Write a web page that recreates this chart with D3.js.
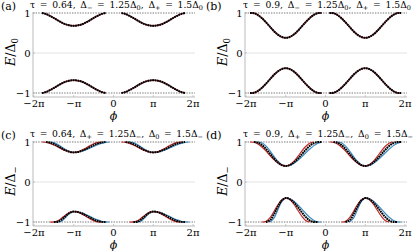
<!DOCTYPE html>
<html>
<head>
<meta charset="utf-8">
<script src="https://cdn.jsdelivr.net/npm/d3@7"></script>
<style>
  body { margin: 0; background: #fff; }
  svg text { font-family: 'DejaVu Serif', serif; }
</style>
</head>
<body>
<svg id="fig" width="415" height="252"></svg>
<script>
// Phase axis in units of pi
var phiTicks = [-2, -1, 0, 1, 2];
var phiTickLabels = ['\u22122\u03c0', '\u2212\u03c0', '0', '\u03c0', '2\u03c0'];
var eTicks = [-1, 0, 1];
var eTickLabels = ['\u22121', '0', '1'];

// Each bound-state lobe is centred at phi = -pi and phi = +pi
var lobeCentres = [-1, 1];
var lobeOffsets = [-0.9, -0.8, -0.7, -0.6, -0.5, -0.4, -0.3, -0.2, -0.1, 0,
                   0.1, 0.2, 0.3, 0.4, 0.5, 0.6, 0.7, 0.8, 0.9];

// (a) tau = 0.64
var aUpper = [1, 1, 0.975, 0.93, 0.875, 0.815, 0.76, 0.715, 0.69, 0.68, 0.69, 0.715, 0.76, 0.815, 0.875, 0.93, 0.975, 1, 1];
var aLower = [-1, -1, -0.975, -0.93, -0.875, -0.815, -0.76, -0.715, -0.69, -0.68, -0.69, -0.715, -0.76, -0.815, -0.875, -0.93, -0.975, -1, -1];
// (b) tau = 0.9
var bUpper = [1, 0.995, 0.95, 0.87, 0.77, 0.66, 0.55, 0.46, 0.40, 0.38, 0.40, 0.46, 0.55, 0.66, 0.77, 0.87, 0.95, 0.995, 1];
var bLower = [-1, -0.995, -0.95, -0.87, -0.77, -0.66, -0.55, -0.46, -0.40, -0.38, -0.40, -0.46, -0.55, -0.66, -0.77, -0.87, -0.95, -0.995, -1];
// (c) tau = 0.64, red / blue / black
var cUpperRed   = [1, 1, 0.993, 0.967, 0.926, 0.875, 0.824, 0.78, 0.75, 0.74, 0.754, 0.792, 0.846, 0.906, 0.958, 0.991, 1, 1, 1];
var cUpperBlue  = [1, 1, 1, 1, 0.983, 0.935, 0.87, 0.805, 0.757, 0.74, 0.748, 0.769, 0.802, 0.843, 0.887, 0.93, 0.965, 0.99, 1];
var cUpperBlack = [1, 1, 1, 0.987, 0.951, 0.899, 0.841, 0.789, 0.753, 0.74, 0.75, 0.778, 0.82, 0.87, 0.92, 0.962, 0.99, 1, 1];
var cLowerRed   = [-1, -1, -1, -1, -0.999, -0.967, -0.901, -0.824, -0.763, -0.74, -0.755, -0.796, -0.854, -0.916, -0.967, -0.996, -1, -1, -1];
var cLowerBlue  = [-1, -1, -1, -1, -1, -1, -0.973, -0.881, -0.782, -0.74, -0.749, -0.774, -0.812, -0.858, -0.906, -0.948, -0.981, -0.998, -1];
var cLowerBlack = [-1, -1, -1, -1, -1, -0.992, -0.935, -0.847, -0.77, -0.74, -0.751, -0.782, -0.83, -0.884, -0.935, -0.975, -0.997, -1, -1];
// (d) tau = 0.9, red / blue / black
var dUpperRed   = [1, 0.993, 0.95, 0.876, 0.776, 0.667, 0.563, 0.477, 0.42, 0.4, 0.43, 0.513, 0.633, 0.767, 0.887, 0.97, 1, 1, 1];
var dUpperBlue  = [1, 1, 1, 0.98, 0.902, 0.782, 0.645, 0.52, 0.432, 0.4, 0.416, 0.463, 0.536, 0.627, 0.725, 0.819, 0.903, 0.964, 0.996];
var dUpperBlack = [1, 1, 0.984, 0.924, 0.829, 0.712, 0.594, 0.492, 0.424, 0.4, 0.422, 0.484, 0.578, 0.689, 0.802, 0.9, 0.969, 0.999, 1];
var dLowerRed   = [-1, -1, -1, -1, -0.988, -0.897, -0.743, -0.575, -0.448, -0.4, -0.44, -0.55, -0.7, -0.85, -0.96, -1, -1, -1, -1];
var dLowerBlue  = [-1, -1, -1, -1, -1, -1, -0.912, -0.7, -0.488, -0.4, -0.42, -0.477, -0.565, -0.672, -0.782, -0.88, -0.955, -0.995, -1];
var dLowerBlack = [-1, -1, -1, -1, -1, -0.96, -0.815, -0.622, -0.462, -0.4, -0.428, -0.507, -0.622, -0.752, -0.872, -0.96, -0.999, -1, -1];

var panelLetters = ['(a)', '(b)', '(c)', '(d)'];
// title pieces: [text, subscript?]
var panelTitles = [
  [['\u03c4 = 0.64, \u0394', 0], ['\u2212', 1], [' = 1.25\u0394', 0], ['0', 1], [', \u0394', 0], ['+', 1], [' = 1.5\u0394', 0], ['0', 1]],
  [['\u03c4 = 0.9, \u0394', 0], ['\u2212', 1], [' = 1.25\u0394', 0], ['0', 1], [', \u0394', 0], ['+', 1], [' = 1.5\u0394', 0], ['0', 1]],
  [['\u03c4 = 0.64, \u0394', 0], ['+', 1], [' = 1.25\u0394', 0], ['\u2212', 1], [', \u0394', 0], ['0', 1], [' = 1.5\u0394', 0], ['\u2212', 1]],
  [['\u03c4 = 0.9, \u0394', 0], ['+', 1], [' = 1.25\u0394', 0], ['\u2212', 1], [', \u0394', 0], ['0', 1], [' = 1.5\u0394', 0], ['\u2212', 1]]
];
var yLabelSubs = ['0', '0', '\u2212', '\u2212'];
var panelSeries = [
  {red: [aUpper, aLower], blue: [aUpper, aLower], black: [aUpper, aLower]},
  {red: [bUpper, bLower], blue: [bUpper, bLower], black: [bUpper, bLower]},
  {red: [cUpperRed, cLowerRed], blue: [cUpperBlue, cLowerBlue], black: [cUpperBlack, cLowerBlack]},
  {red: [dUpperRed, dLowerRed], blue: [dUpperBlue, dLowerBlue], black: [dUpperBlack, dLowerBlack]}
];

// title placement inside each panel (x start, target width)
var titleX = [30, 31, 30, 31];
var titleW = [173, 168, 173, 170];

var svg = d3.select('#fig');

// keep only the part of a lobe that leaves the gap edge
function lobePoints(values, centre) {
  var pts = [];
  values.forEach(function(v, i) {
    var inside = Math.abs(v) < 1,
        prevIn = i > 0 && Math.abs(values[i - 1]) < 1,
        nextIn = i < values.length - 1 && Math.abs(values[i + 1]) < 1;
    if (inside || prevIn || nextIn) pts.push([centre + lobeOffsets[i], v]);
  });
  return pts;
}

panelLetters.forEach(function(letter, p) {
  var col = p % 2, row = Math.floor(p / 2),
      ox = col * 212, oy = row * 129;
  var g = svg.append('g').attr('transform', 'translate(' + ox + ',' + oy + ')');

  var x = d3.scaleLinear().domain([-2, 2]).range([34, 193]);
  var y = d3.scaleLinear().domain([-1, 1]).range([93, 13]);

  // zero line
  g.append('line')
    .attr('x1', 33).attr('x2', 195)
    .attr('y1', y(0)).attr('y2', y(0))
    .attr('stroke', '#dcdcdc').attr('stroke-width', 0.8);

  // gap edges
  [-1, 1].forEach(function(e) {
    g.append('line')
      .attr('x1', 33).attr('x2', 195)
      .attr('y1', y(e)).attr('y2', y(e))
      .attr('stroke', '#555').attr('stroke-width', 0.8)
      .attr('stroke-dasharray', '1.4,1.2');
  });

  // spines
  g.append('line').attr('x1', 33).attr('x2', 33).attr('y1', 12).attr('y2', 97)
    .attr('stroke', '#aaa').attr('stroke-width', 0.8);
  g.append('line').attr('x1', 33).attr('x2', 195).attr('y1', 97).attr('y2', 97)
    .attr('stroke', '#aaa').attr('stroke-width', 0.8);

  // x ticks
  phiTicks.forEach(function(t, i) {
    g.append('line').attr('x1', x(t)).attr('x2', x(t)).attr('y1', 97).attr('y2', 95)
      .attr('stroke', '#aaa').attr('stroke-width', 0.6);
    g.append('text').attr('x', x(t)).attr('y', 106.5)
      .attr('text-anchor', 'middle').attr('font-size', 10)
      .text(phiTickLabels[i]);
  });
  // y ticks
  eTicks.forEach(function(t, i) {
    g.append('line').attr('x1', 33).attr('x2', 35).attr('y1', y(t)).attr('y2', y(t))
      .attr('stroke', '#aaa').attr('stroke-width', 0.6);
    g.append('text').attr('x', 30.5).attr('y', y(t) + 4)
      .attr('text-anchor', 'end').attr('font-size', 10)
      .text(eTickLabels[i]);
  });

  // axis titles
  g.append('text').attr('x', x(0)).attr('y', 120)
    .attr('text-anchor', 'middle').attr('font-size', 11).attr('font-style', 'italic')
    .text('\u03d5');
  var yl = g.append('text')
    .attr('transform', 'translate(15,' + (y(0) - 1) + ') rotate(-90)')
    .attr('text-anchor', 'middle').attr('font-size', 12.5);
  yl.append('tspan').attr('font-style', 'italic').text('E');
  yl.append('tspan').text('/\u0394');
  yl.append('tspan').attr('font-size', 8.5).attr('dy', 2.5).text(yLabelSubs[p]);

  // panel letter and title
  g.append('text').attr('x', col ? -6 : 1).attr('y', 10).attr('font-size', 11).text(letter);
  var tt = g.append('text').attr('x', titleX[p]).attr('y', 8).attr('font-size', 9.2);
  panelTitles[p].forEach(function(piece, k) {
    var ts = tt.append('tspan').text(piece[0]);
    if (piece[1]) ts.attr('font-size', 6.5).attr('dy', 2);
    else if (k > 0) ts.attr('dy', -2);
  });
  // stretch the math spacing so the title spans its reference width
  var len = tt.node().getComputedTextLength(),
      nSpaces = panelTitles[p].reduce(function(n, piece) {
        return n + piece[0].split(' ').length - 1;
      }, 0);
  if (len > 0) tt.attr('word-spacing', Math.max(0, (titleW[p] - len) / nSpaces));

  var line = d3.line()
    .x(function(d) { return x(d[0]); })
    .y(function(d) { return y(d[1]); })
    .curve(d3.curveCatmullRom);

  var s = panelSeries[p];
  [['blue', '#3d8cc4', 1.2, null], ['red', '#c42a2a', 1.2, null], ['black', '#000', 2, '1.8,0.6']]
    .forEach(function(style) {
      s[style[0]].forEach(function(values) {
        lobeCentres.forEach(function(c) {
          g.append('path')
            .datum(lobePoints(values, c))
            .attr('d', line)
            .attr('fill', 'none')
            .attr('stroke', style[1])
            .attr('stroke-width', style[2])
            .attr('stroke-dasharray', style[3]);
        });
      });
    });
});
</script>
</body>
</html>
